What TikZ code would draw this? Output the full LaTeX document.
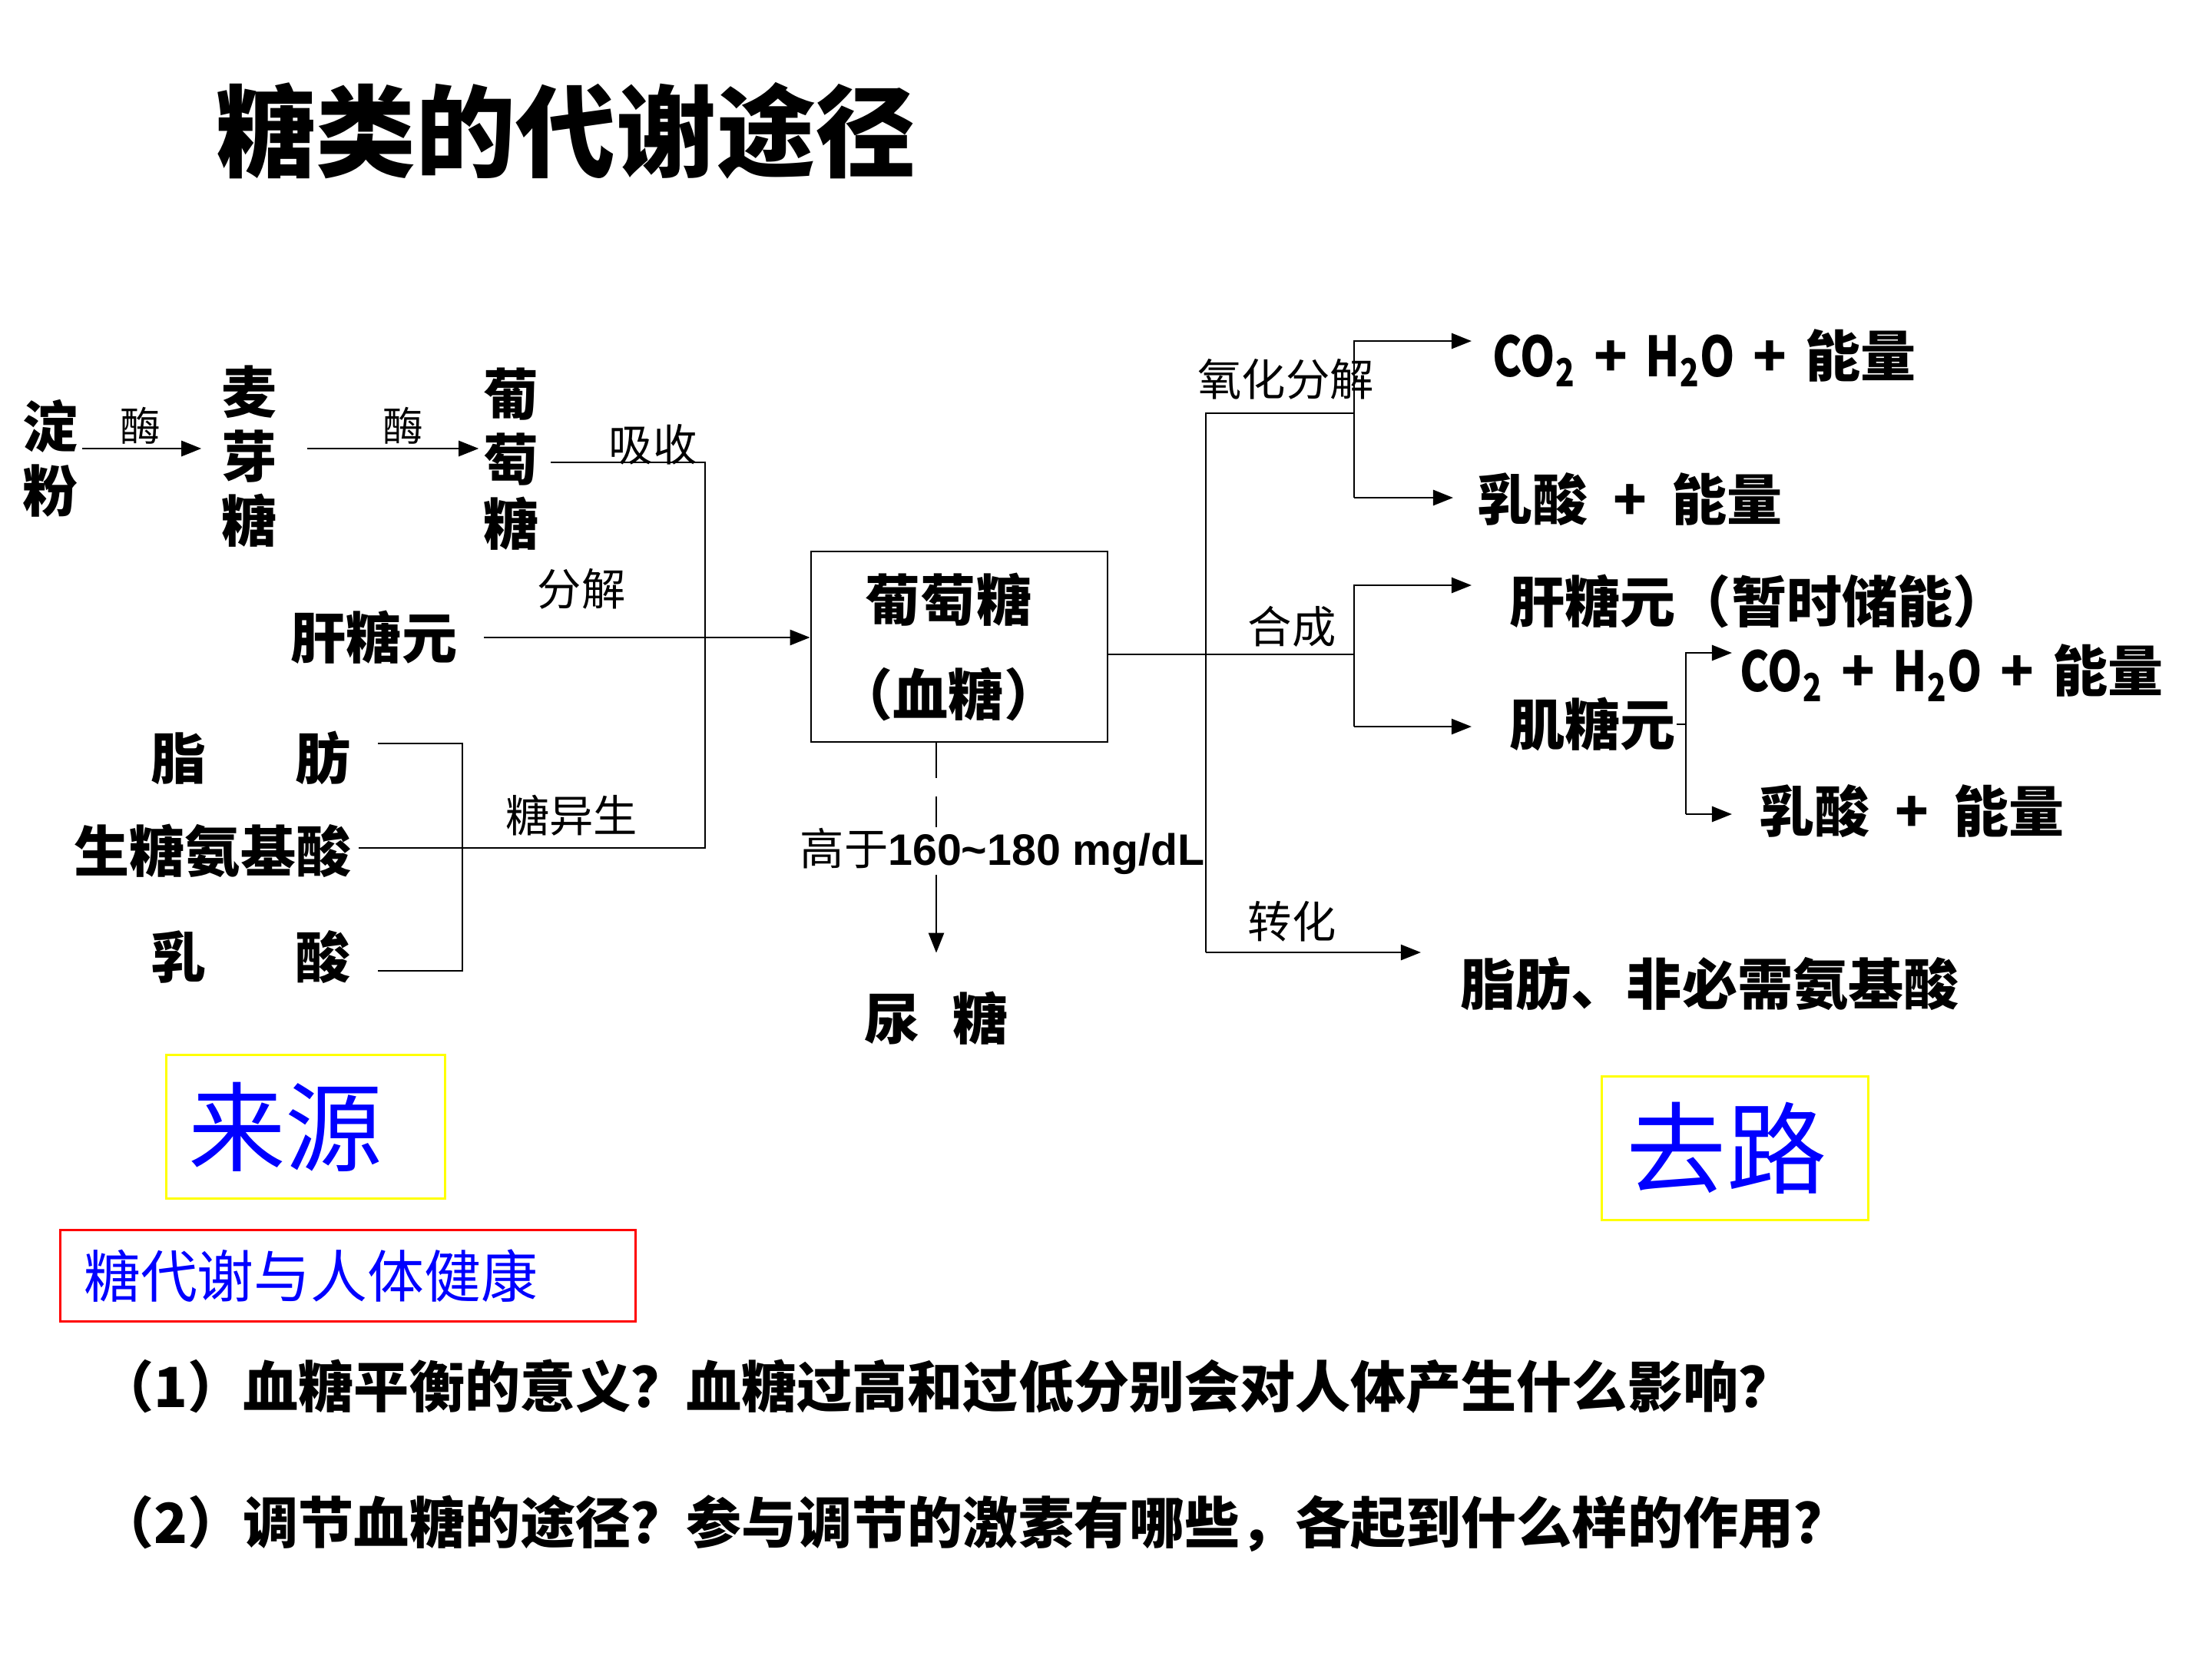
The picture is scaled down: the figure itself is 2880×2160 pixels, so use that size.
\documentclass[tikz,border=0pt]{standalone}
\usepackage{fontspec}
\newfontfamily\cjk{Noto Sans CJK SC}
\newfontfamily\cjkn[FakeStretch=0.8]{Noto Sans CJK SC}
\newfontfamily\arialb{Liberation Sans}
\usetikzlibrary{arrows.meta}

\tikzset{
    heading/.style={font=\cjk\bfseries\fontsize{37}{42}\selectfont, inner sep=0pt},
    item/.style={font=\cjk\bfseries\fontsize{20.5}{24}\selectfont, inner sep=0pt},
    column/.style={item, align=center},
    tag/.style={font=\cjk\fontsize{16.3}{19}\selectfont, inner sep=0pt},
    enzyme/.style={font=\cjk\fontsize{15}{18}\selectfont, inner sep=0pt},
    link/.style={line width=0.75pt},
    flow/.style={link, -{Triangle[length=0.26cm,width=0.2cm]}},
    framed/.style={draw=frameYellow, line width=1pt, text=textBlue, inner sep=0pt,
        font=\cjk\fontsize{36}{40}\selectfont}
}

\begin{document}
\begin{tikzpicture}[x=0.01cm, y=-0.01cm]
    \definecolor{frameYellow}{HTML}{FFFF00}
    \definecolor{frameRed}{HTML}{FF0000}
    \definecolor{textBlue}{HTML}{0000FF}
    \def\plus{\hspace{0.45em}+\hspace{0.45em}}
    \def\gplus{\hspace{0.33em}+\hspace{0.33em}}
    \def\gas{{\cjkn CO\textsubscript{2}}\gplus{\cjkn H\textsubscript{2}O}\gplus 能量}

    % Page
    \fill[white] (0,0) rectangle (2880,2160);
    \useasboundingbox (0,0) rectangle (2880,2160);

    \node[heading] (title) at (737,170) {糖类的代谢途径};

    % Sources
    \node[column] (dianfen) at (66,597) {淀\\粉};
    \node[column] (maiya) at (325,594) {麦\\芽\\糖};
    \node[column] (putao) at (666,598) {葡\\萄\\糖};
    \node[item] (gan) at (487,830) {肝糖元};
    \node[item, anchor=east] (zhifang) at (457,987) {脂\hspace{1.6em}肪};
    \node[item] (amino) at (277,1108) {生糖氨基酸};
    \node[item, anchor=east] (rusuan) at (457,1246) {乳\hspace{1.6em}酸};

    \node[tag] (xishou) at (850,579) {吸收};
    \node[tag] (fenjie) at (757,767) {分解};
    \node[tag] (tangyisheng) at (744,1062) {糖异生};

    % Blood glucose
    \node[item, draw, line width=0.75pt, minimum width=3.86cm, minimum height=2.48cm,
        align=center, font=\cjk\bfseries\fontsize{20.5}{35}\selectfont] (blood) at (1249,842)
        {葡萄糖\rule{0.28cm}{0pt}\\（血糖）\rule{0.28cm}{0pt}};

    \coordinate (absorb) at (918,602);
    \coordinate (gngbar) at (602,1104);

    % Draw source paths
    \draw[flow, shorten <=0.04cm, shorten >=0.26cm] ([yshift=0.13cm]dianfen.east) -- ([yshift=0.13cm]dianfen.east -| maiya.west)
        node[pos=0.43, above=0.04cm, enzyme] {酶};
    \draw[flow, shorten <=0.38cm, shorten >=0.06cm] ([yshift=0.13cm]maiya.east |- dianfen.east) -- ([yshift=0.13cm]dianfen.east -| putao.west)
        node[pos=0.61, above=0.04cm, enzyme] {酶};
    \draw[link, shorten <=0.09cm, shorten >=0.14cm] ([yshift=0.04cm]amino.east) -- ([yshift=0.04cm]amino.east -| absorb) -- (absorb) -- (absorb -| putao.east);
    \draw[link, shorten <=0.35cm, shorten >=0.35cm] ([yshift=0.19cm]zhifang.east) -| (gngbar) |- ([yshift=-0.18cm]rusuan.east);
    \draw[flow, shorten <=0.34cm] (gan.east) -- (gan.east -| blood.west);

    % Urine glucose
    \node[tag, anchor=west] (thr) at (1041,1108) {高于{\arialb\bfseries 160\textasciitilde180 mg/dL}};
    \node[item] (urine) at (1219,1326) {尿\hspace{0.6em}糖};
    \draw[link, dash pattern=on 0.46cm off 0.24cm] (blood.south -| urine) -- (thr.north -| urine);
    \draw[flow, shorten >=0.5cm] (thr.south -| urine) -- (urine.north);

    % Fates
    \node[item, anchor=west] (co2a) at (1943,466) {\gas};
    \node[item, anchor=west] (lac1) at (1923,650) {乳酸\plus 能量};
    \node[item, anchor=west] (ganb) at (1965,783) {肝糖元（暂时储能）};
    \node[item, anchor=west] (ji) at (1965,943) {肌糖元};
    \node[item, anchor=west] (co2b) at (2265,876) {\gas};
    \node[item, anchor=west] (lac2) at (2290,1056) {乳酸\plus 能量};
    \node[item, anchor=west] (fatb) at (1901,1281) {脂肪、非必需氨基酸};

    \node[tag] (yanghua) at (1674,494) {氧化分解};
    \node[tag] (hecheng) at (1682,816) {合成};
    \node[tag] (zhuanhua) at (1682,1200) {转化};

    \coordinate (trunkT) at (1570,538);
    \coordinate (trunkB) at (1570,1240);
    \coordinate (oxbar) at (1763,538);
    \coordinate (oxT) at (1763,444);
    \coordinate (oxB) at (1763,648);
    \coordinate (synT) at (1763,762);
    \coordinate (synB) at (1763,946);
    \coordinate (muT) at (2195,850);
    \coordinate (muB) at (2195,1060);

    % Draw fate paths
    \draw[link] ([yshift=-0.1cm]blood.east) -- ([yshift=-0.1cm]blood.east -| synT);
    \draw[link] (trunkB) -- (trunkT) -- (oxbar);
    \draw[flow, shorten >=0.27cm] (oxB) -- (oxT) -- (oxT -| co2a.west);
    \draw[flow, shorten >=0.31cm] (oxB) -- (oxB -| lac1.west);
    \draw[flow, shorten >=0.49cm] (synB) -- (synT) -- (synT -| ganb.west);
    \draw[flow, shorten >=0.49cm] (synB) -- (synB -| ji.west);
    \draw[link] (ji.east) -- (ji.east -| muT);
    \draw[flow, shorten >=0.10cm] (muB) -- (muT) -- (muT -| co2b.west);
    \draw[flow, shorten >=0.35cm] (muB) -- (muB -| lac2.west);
    \draw[flow, shorten >=0.51cm] (trunkB) -- (trunkB -| fatb.west);

    % Bottom boxes
    \node[framed, minimum width=3.63cm, minimum height=1.87cm] (laiyuan) at (398,1467) {来源\rule{0.52cm}{0pt}};
    \node[framed, minimum width=3.47cm, minimum height=1.87cm, font=\cjk\fontsize{37}{41}\selectfont] (qulu) at (2259,1495) {去路\rule{0.22cm}{0pt}};
    \node[draw=frameRed, line width=0.9pt, text=textBlue, font=\cjk\fontsize{21}{25}\selectfont,
        text width=6.87cm, inner xsep=0.31cm, inner ysep=0pt, minimum height=1.19cm, align=left] (health) at (453,1661) {糖代谢与人体健康};

    % Questions
    \node[item, anchor=west] (q1) at (128,1805) {（1）血糖平衡的意义？血糖过高和过低分别会对人体产生什么影响？};
    \node[item, anchor=west] (q2) at (128,1984) {（2）调节血糖的途径？参与调节的激素有哪些，各起到什么样的作用？};

\end{tikzpicture}
\end{document}
